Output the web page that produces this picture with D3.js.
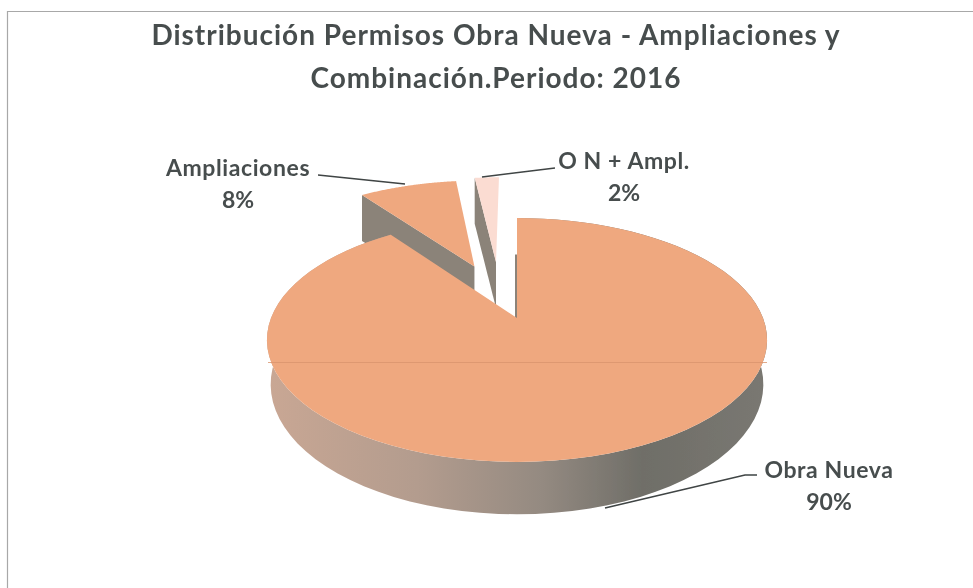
<!DOCTYPE html>
<html>
<head>
<meta charset="utf-8">
<script src="https://cdn.jsdelivr.net/npm/d3@7"></script>
<style>
  html, body { margin: 0; padding: 0; background: #fff; }
  svg { display: block; }
  text { font-family: Lato, sans-serif; font-weight: 700; fill: #474d4e; }
</style>
</head>
<body>
<div id="chart"></div>
<script>
const categories = ["Obra Nueva", "Ampliaciones", "O N + Ampl."];
const shares = [90, 8, 2];
const titleLines = ["Distribución Permisos Obra Nueva - Ampliaciones y", "Combinación.Periodo: 2016"];

const width = 973;
const height = 588;

// fake 3D pie: unit disc pushed through a small perspective
const persp = 0.18;
const depth = 43;
const x = d3.scaleLinear().domain([-1, 1]).range([517 - 246, 517 + 246]);
const y = d3.scaleLinear().domain([-1, 1]).range([318 - 118, 318 + 118]);

function project(u, v, drop) {
  const w = 1 - persp * v;
  const shrink = drop ? 0.985 : 1;
  return [
    x(0) + (x(u / w) - x(0)) * shrink,
    y(v / w) + (drop ? depth / w : 0)
  ];
}

// exploded slices sit at the back, their walls just hang straight down
function hang(p) {
  return [p[0], p[1] + 46];
}

// explode offset per slice, in disc units
const explode = [
  { dist: 0, angle: 0 },
  { dist: 0.51, angle: null },     // along its own middle
  { dist: 0.527, angle: -0.178 }   // Excel pushes the small one further left
];

const pie = d3.pie().sort(null).startAngle(0).endAngle(2 * Math.PI);
const slices = pie(shares).map((d, i) => {
  const mid = (d.startAngle + d.endAngle) / 2;
  const a = explode[i].angle === null ? mid : explode[i].angle;
  return { ...d, ox: explode[i].dist * Math.sin(a), oy: -explode[i].dist * Math.cos(a) };
});

const rimPoints = (s, drop) =>
  d3.range(0, 91).map(k => {
    const a = s.startAngle + (s.endAngle - s.startAngle) * k / 90;
    return project(s.ox + Math.sin(a), s.oy - Math.cos(a), drop);
  });
const apex = (s, drop) => project(s.ox, s.oy, drop);
const edge = (s, a, drop) => project(s.ox + Math.sin(a), s.oy - Math.cos(a), drop);

const line = d3.line();
const closed = pts => line(pts) + "Z";

const svg = d3.select("#chart").append("svg")
    .attr("width", width)
    .attr("height", height);

const defs = svg.append("defs");
defs.append("filter").attr("id", "scan")
    .append("feGaussianBlur").attr("stdDeviation", 0.5);

const grad = defs.append("linearGradient")
    .attr("id", "wall")
    .attr("gradientUnits", "userSpaceOnUse")
    .attr("x1", 267).attr("x2", 768).attr("y1", 0).attr("y2", 0);
[[0, "#c9a794"], [0.3, "#b39c8e"], [0.55, "#948a81"], [0.75, "#6f6e68"], [1, "#7a7872"]]
  .forEach(s => grad.append("stop").attr("offset", s[0]).attr("stop-color", s[1]));

const g = svg.append("g").attr("filter", "url(#scan)");

// scan frame, only left and top survived
g.append("path")
    .attr("d", "M7.5,588V11.5H973")
    .attr("fill", "none")
    .attr("stroke", "#a8a8a8")
    .attr("stroke-width", 1.2);

const topColors = ["#efa87f", "#efa87f", "#fbdcd2"];
const cutColor = "#8b8379";

// exploded slices go first, the big one covers their walls
[slices[2], slices[1]].forEach(s => {
  const i = slices.indexOf(s);
  const outer = edge(s, s.startAngle, false);
  const inner = apex(s, false);
  g.append("path")
      .attr("d", closed([inner, outer, hang(outer), hang(inner)]))
      .attr("fill", cutColor);
  g.append("path")
      .attr("d", closed([inner, ...rimPoints(s, false)]))
      .attr("fill", topColors[i]);
});

const main = slices[0];
g.append("path")
    .attr("d", closed([...rimPoints(main, false), ...rimPoints(main, true).reverse()]))
    .attr("fill", "url(#wall)");

// thin bit of the cut wall at 12 o'clock
g.append("line")
    .attr("x1", apex(main, false)[0] - 1)
    .attr("x2", apex(main, false)[0] - 1)
    .attr("y1", edge(main, 0, true)[1])
    .attr("y2", apex(main, false)[1])
    .attr("stroke", cutColor)
    .attr("stroke-width", 2);

g.append("path")
    .attr("d", closed([apex(main, false), ...rimPoints(main, false)]))
    .attr("fill", topColors[0]);

// scanner streak over the top face
g.append("line")
    .attr("x1", 268).attr("x2", 767)
    .attr("y1", 362.5).attr("y2", 362.5)
    .attr("stroke", "#d9946d")
    .attr("stroke-width", 0.8);

// leaders
const leaders = [
  [[605, 508], [745, 475], [757, 475]],
  [[318, 175], [405, 184]],
  [[482, 177], [555, 168]]
];
g.selectAll(".leader")
  .data(leaders)
  .enter()
  .append("path")
    .attr("class", "leader")
    .attr("d", d => line(d))
    .attr("fill", "none")
    .attr("stroke", "#3f4444")
    .attr("stroke-width", 1.6);

// labels
const labelPos = [[829, 478, 510], [238, 176, 208], [624, 169, 201]];
categories.forEach((c, i) => {
  g.append("text")
      .attr("x", labelPos[i][0])
      .attr("y", labelPos[i][1])
      .attr("text-anchor", "middle")
      .style("font-size", "23px")
      .style("letter-spacing", "0.6px")
      .text(c);
  g.append("text")
      .attr("x", labelPos[i][0])
      .attr("y", labelPos[i][2])
      .attr("text-anchor", "middle")
      .style("font-size", "23px")
      .text(shares[i] + "%");
});

g.selectAll(".title")
  .data(titleLines)
  .enter()
  .append("text")
    .attr("class", "title")
    .attr("x", 496)
    .attr("y", (d, i) => 45 + i * 43)
    .attr("text-anchor", "middle")
    .style("font-size", "28px")
    .style("letter-spacing", "1px")
    .text(d => d);
</script>
</body>
</html>
